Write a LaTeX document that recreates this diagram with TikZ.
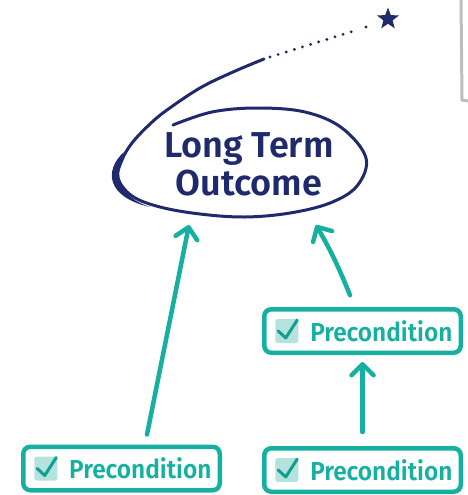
\documentclass[tikz,border=0pt]{standalone}
\usepackage{fontspec}
\setmainfont{Fira Sans}[BoldFont={Fira Sans SemiBold}]
\usetikzlibrary{arrows.meta,shapes.geometric}
\definecolor{navyc}{RGB}{30,42,108}
\definecolor{tealc}{RGB}{22,176,160}
\definecolor{chkfill}{RGB}{180,226,220}
\definecolor{railgray}{RGB}{190,190,190}
\newcommand{\prelabel}[1]{\makebox[196.5pt][l]{\hspace*{46pt}#1}}
\tikzset{
  precond/.style={draw=tealc, line width=4.5pt, rounded corners=7pt,
    minimum height=43.5pt, minimum width=196.5pt, inner xsep=0pt, inner ysep=0pt,
    text=tealc, font=\bfseries\fontsize{26}{28}\selectfont\addfontfeature{FakeStretch=0.94},
    path picture={
      \fill[chkfill, rounded corners=2.5pt]
        ([xshift=11pt,yshift=-12pt]path picture bounding box.west) rectangle
        ([xshift=34pt,yshift=12pt]path picture bounding box.west);
      \draw[tealc!90!black, line width=3pt, line cap=round, line join=round, rounded corners=0pt]
        ([xshift=14pt,yshift=0pt]path picture bounding box.west) --
        ([xshift=21.5pt,yshift=-7pt]path picture bounding box.west) --
        ([xshift=33pt,yshift=11pt]path picture bounding box.west);
    }},
  arr/.style={draw=tealc, line width=4.5pt, line cap=round,
    -{Straight Barb[round, length=11pt, width=22pt]}},
}
\begin{document}
\begin{tikzpicture}[x=1pt,y=-1pt]
\useasboundingbox (0,0) rectangle (468,495);

% grey margin rail
\draw[railgray, line width=3pt] (461,0) -- (462,100) -- (468,101);

% star and its dotted trail
\node[star, star points=5, star point ratio=2.4, fill=navyc, inner sep=0pt,
      minimum size=23pt] (goal) at (388,19) {};
\draw[navyc, line width=3.2pt, line cap=round, dash pattern=on 0pt off 8.5pt]
  (270,57) -- (357,30);
\fill[navyc] (366,27) circle (1.7);

% outcome loop with its sweeping tail
\draw[navyc, line width=3pt, line cap=round, line join=round]
  plot[smooth, tension=0.6] coordinates {(173,125) (212,112) (257,108) (305,112)
   (342,128) (366,158) (357,186) (330,203) (290,213) (245,217) (200,214)
   (160,207) (132,196) (118,178) (122,160) (132,143) (150,124) (167,110)
   (200,88) (233,72) (264,59)};
\fill[navyc] (124,152) .. controls (104,170) and (106,197) .. (150,207)
  .. controls (120,197) and (113,178) .. (124,152) -- cycle;

\node[text=navyc, font=\bfseries\fontsize{36}{38}\selectfont, align=center,
      inner sep=0pt] (outcome) at (249,164.5) {Long Term\\Outcome};

% preconditions
\node[precond] (p1) at (362.5,331) {\prelabel{Precondition}};
\node[precond] (p2) at (362.5,470) {\prelabel{Precondition}};
\node[precond] (p3) at (121.5,468.5) {\prelabel{Precondition}};

% arrow ends under the loop
\coordinate (tipL) at (189,225);
\coordinate (tipR) at (316,225);

\draw[arr] ([xshift=25.5pt,yshift=10pt]p3.north) -- (tipL);
\draw[arr] ([xshift=-12.5pt,yshift=11.75pt]p1.north) to[bend right=4] (tipR);
\draw[arr] ([yshift=14pt]p2.north) -- ([yshift=-7pt]p1.south);
\end{tikzpicture}
\end{document}
